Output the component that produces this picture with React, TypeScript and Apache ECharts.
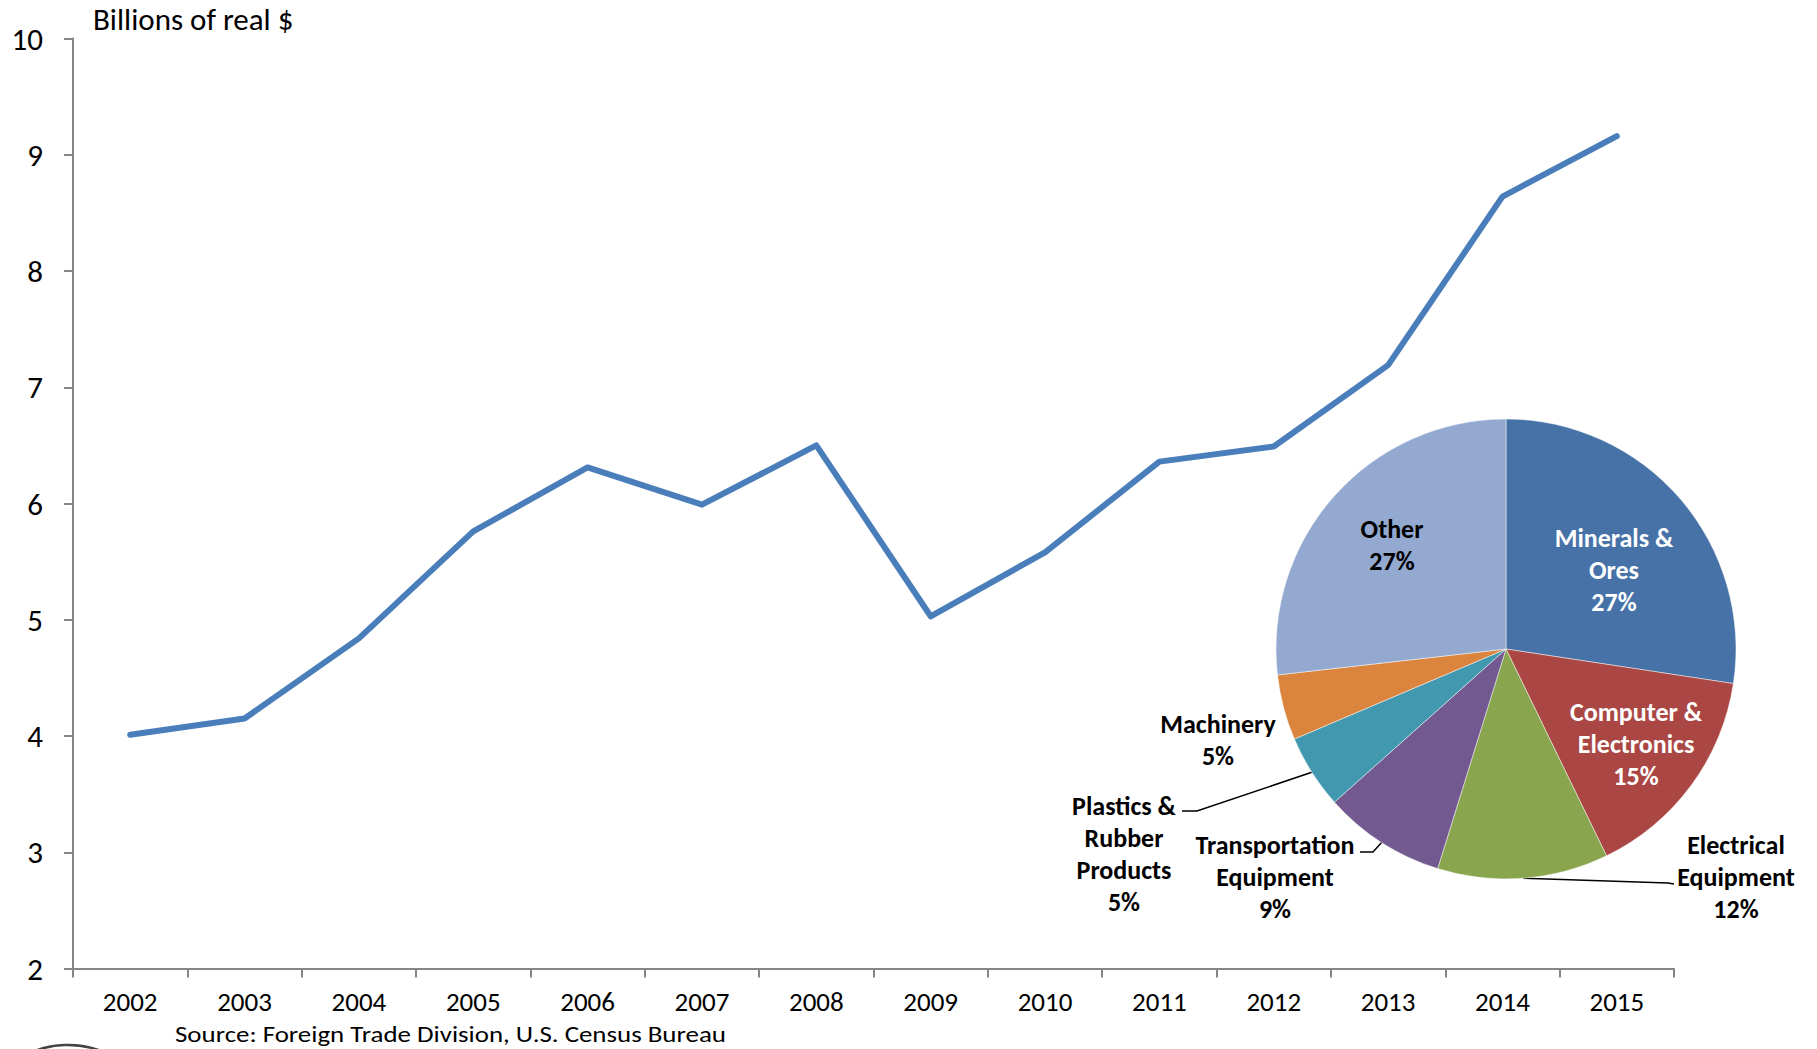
import React, { useEffect, useRef } from "react";
import * as echarts from "echarts";

// ---- data ----
const years = ["2002", "2003", "2004", "2005", "2006", "2007", "2008", "2009", "2010", "2011", "2012", "2013", "2014", "2015"];
const exportsBillions = [4.01, 4.15, 4.84, 5.76, 6.31, 5.99, 6.5, 5.03, 5.58, 6.36, 6.49, 7.19, 8.64, 9.16];
const yMin = 2;
const yMax = 10;
const yStep = 1;

const sectors = [
  "Minerals & Ores",
  "Computer & Electronics",
  "Electrical Equipment",
  "Transportation Equipment",
  "Plastics & Rubber Products",
  "Machinery",
  "Other",
];
const sectorLabels = [
  "Minerals &\nOres",
  "Computer &\nElectronics",
  "Electrical\nEquipment",
  "Transportation\nEquipment",
  "Plastics &\nRubber\nProducts",
  "Machinery",
  "Other",
];
const sectorShares = [27.4, 15.4, 12.0, 8.6, 5.2, 4.6, 26.8];
const sectorColors = ["#4672A8", "#AA4744", "#89A54E", "#725990", "#4298AF", "#DB843D", "#93A9D0"];

const titleText = "Billions of real $";
const sourceText = "Source: Foreign Trade Division, U.S. Census Bureau";

// ---- layout / style ----
const FONT = 'Carlito, Calibri, "Liberation Sans Narrow", "Open Sans", sans-serif';
const PIE_CX = 1506;
const PIE_CY = 649;
const PIE_R = 230;
// label centre offsets from the pie centre
const labelOffsets: number[][] = [
  [108, -79],
  [130, 95],
  [230, 228],
  [-231, 228],
  [-382, 205],
  [-288, 91],
  [-114, -104],
];
const labelInside = [true, true, false, false, false, false, true];
const labelWhite = [true, true, false, false, false, false, false];
// leader line: [elbow, end] relative to pie centre (null = none)
const leaderPts: (number[][] | null)[] = [
  null,
  null,
  [[162, 234], [168, 235]],
  [[-133, 203], [-146, 203]],
  [[-309, 162], [-324, 162]],
  null,
  null,
];

function arcPoint(i: number) {
  const total = sectorShares.reduce((a, b) => a + b, 0);
  let before = 0;
  for (let k = 0; k < i; k++) before += sectorShares[k];
  const mid = ((before + sectorShares[i] / 2) / total) * Math.PI * 2;
  return [PIE_CX + PIE_R * Math.sin(mid), PIE_CY - PIE_R * Math.cos(mid)];
}

export default function App() {
  const ref = useRef<HTMLDivElement>(null);

  useEffect(() => {
    if (!ref.current) return;
    const chart = echarts.init(ref.current, null, { renderer: "svg" });

    const pieData = sectors.map((name, i) => ({
      name,
      value: sectorShares[i],
      itemStyle: { color: sectorColors[i] },
      label: {
        show: true,
        position: labelInside[i] ? "inside" : "outside",
        formatter: sectorLabels[i] + "\n{d}%",
        color: labelWhite[i] ? "#ffffff" : "#000000",
      },
      labelLine: { show: !!leaderPts[i] },
    }));

    chart.setOption({
      animation: false,
      backgroundColor: "#ffffff",
      textStyle: { fontFamily: FONT },
      grid: { left: 73, right: 143, top: 38.5, bottom: 80.5, containLabel: false },
      xAxis: {
        type: "category",
        data: years,
        boundaryGap: true,
        axisLine: { show: true, lineStyle: { color: "#868686", width: 2 } },
        axisTick: { show: true, alignWithLabel: false, length: 9, lineStyle: { color: "#868686", width: 2 } },
        axisLabel: { interval: 0, color: "#000", fontSize: 27, lineHeight: 27, fontFamily: FONT, margin: 19 },
        splitLine: { show: false },
      },
      yAxis: {
        type: "value",
        min: yMin,
        max: yMax,
        interval: yStep,
        axisLine: { show: true, lineStyle: { color: "#868686", width: 2 } },
        axisTick: { show: true, length: 9, lineStyle: { color: "#868686", width: 2 } },
        axisLabel: { color: "#000", fontSize: 31, fontFamily: FONT, margin: 30 },
        splitLine: { show: false },
      },
      series: [
        {
          type: "line",
          data: exportsBillions,
          symbol: "none",
          lineStyle: { color: "#4A7EBB", width: 6, join: "round", cap: "round" },
          z: 2,
        },
        {
          type: "pie",
          center: [PIE_CX, PIE_CY],
          radius: PIE_R,
          startAngle: 90,
          clockwise: true,
          percentPrecision: 0,
          avoidLabelOverlap: false,
          z: 5,
          itemStyle: { borderColor: "rgba(255,255,255,0.6)", borderWidth: 0.8 },
          label: {
            fontFamily: FONT,
            fontSize: 26,
            fontWeight: "bold",
            lineHeight: 32,
            align: "center",
          },
          labelLine: { lineStyle: { color: "#000", width: 1.5 }, length: 10, length2: 10 },
          labelLayout: (params: any) => {
            const i = params.dataIndex;
            const off = labelOffsets[i];
            const res: any = {
              x: PIE_CX + off[0],
              y: PIE_CY + off[1],
              align: "center",
              verticalAlign: "middle",
            };
            const lp = leaderPts[i];
            if (lp) {
              const a = arcPoint(i);
              res.labelLinePoints = [a, [PIE_CX + lp[0][0], PIE_CY + lp[0][1]], [PIE_CX + lp[1][0], PIE_CY + lp[1][1]]];
            }
            return res;
          },
          data: pieData,
        },
      ],
      graphic: [
        {
          type: "text",
          left: 93,
          top: 3,
          style: { text: titleText, fontSize: 31, fontFamily: FONT, fill: "#000" },
        },
        {
          type: "text",
          x: 175,
          y: 1034,
          scaleX: 1.17,
          style: {
            text: sourceText,
            fontSize: 23,
            lineHeight: 23,
            fontFamily: FONT,
            fill: "#000",
            verticalAlign: "middle",
            align: "left",
          },
        },
        {
          type: "circle",
          shape: { cx: 68, cy: 1140, r: 95 },
          style: { fill: "none", stroke: "#444", lineWidth: 2.5 },
        },
        {
          type: "circle",
          shape: { cx: 68, cy: 1140, r: 89 },
          style: { fill: "none", stroke: "#999", lineWidth: 1.5 },
        },
      ],
    });

    return () => chart.dispose();
  }, []);

  return (
    <div
      ref={ref}
      style={{ position: "fixed", left: 0, top: 0, width: 1817, height: 1049, background: "#fff" }}
    />
  );
}
